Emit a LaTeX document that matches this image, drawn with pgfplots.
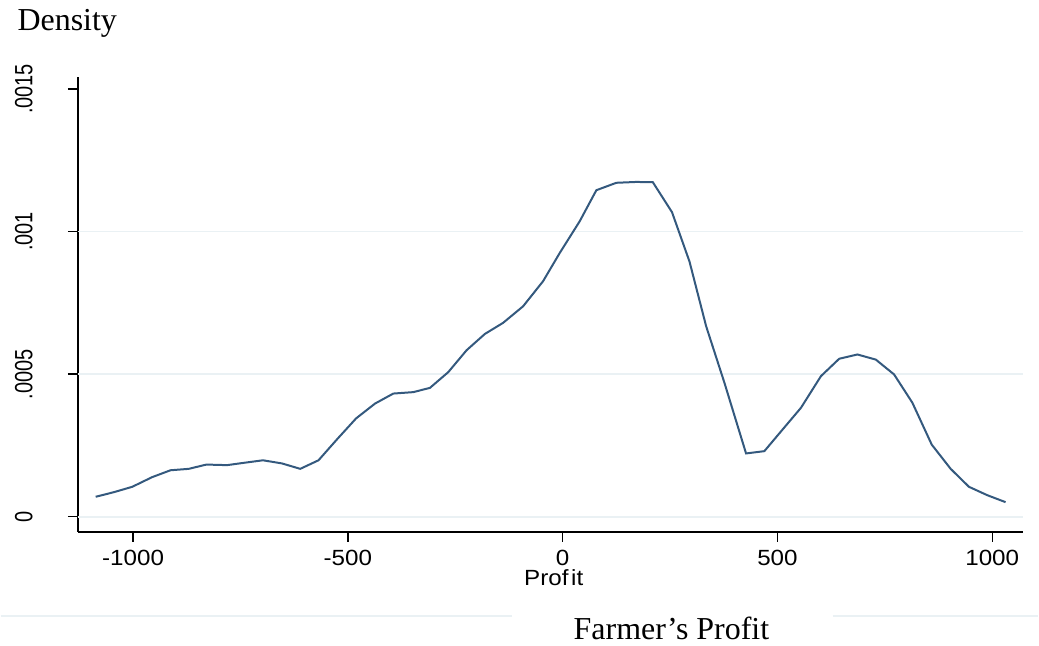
\documentclass[border=0pt]{standalone}
\usepackage{fontspec}
\setmainfont{Liberation Serif}
\newfontfamily\ticksf[FakeStretch=1.1]{Liberation Sans}
\newfontfamily\arialf{Liberation Sans}
\usepackage{graphicx}
\usepackage{pgfplots}
\pgfplotsset{compat=1.18}
\definecolor{curve}{HTML}{34597E}
\definecolor{gridc}{HTML}{EAF1F4}
\begin{document}
\begin{tikzpicture}
\path (0pt,0pt) rectangle (519.5pt,-323pt);
\draw[gridc, line width=0.75pt] (0pt,-308.4pt) -- (255.9pt,-308.4pt);
\draw[gridc, line width=0.75pt] (416.5pt,-308.4pt) -- (519.5pt,-308.4pt);
\node[anchor=base west, inner sep=0pt, font=\fontsize{16}{19}\selectfont] at (8.2pt,-15.35pt) {Density};
\node[anchor=base, inner sep=0pt, font=\fontsize{16}{19}\selectfont] at (335.85pt,-320pt) {Farmer’s Profit};
\begin{axis}[
  at={(38.65pt,-266.35pt)}, anchor=south west,
  scale only axis, width=473pt, height=228pt,
  xmin=-1128.3, xmax=1070.7, ymin=-0.0000532, ymax=0.0015434,
  scaled y ticks=false, scaled x ticks=false,
  axis x line*=bottom, axis y line*=left,
  axis line style={-, line width=0.7pt, black},
  tick align=outside, major tick length=5pt,
  tick style={line width=0.7pt, black},
  xtick={-1000,-500,0,500,1000},
  xticklabels={-1000,-500,0,500,1000},
  ytick={0,0.0005,0.001,0.0015},
  yticklabels={\scalebox{1}[1.25]{0},\scalebox{1}[1.25]{.0005},\scalebox{1}[1.25]{.001},\scalebox{1}[1.25]{.0015}},
  xticklabel style={font=\ticksf\fontsize{11}{13}\selectfont, inner sep=0pt, anchor=north},
  xticklabel shift=4pt,
  yticklabel style={font=\arialf\fontsize{10}{12}\selectfont, rotate=90, anchor=south, inner sep=0pt},
  yticklabel shift=17.5pt,
  extra y ticks={0,0.0005,0.001},
  extra y tick labels={},
  extra y tick style={ymajorgrids=true, major tick length=0pt, grid style={gridc, line width=0.75pt}},
  xlabel={Prof\kern0.12em it},
  xlabel style={font=\ticksf\fontsize{11}{13}\selectfont, at={(axis description cs:0.5,0)}, anchor=base, inner sep=0pt, yshift=-27pt, xshift=1.75pt},
]
\addplot[curve, line width=1pt] coordinates {
(-1087,0.0000701)
(-1044.6,0.0000862)
(-1001.9,0.000105)
(-955.4,0.000139)
(-912.9,0.000163)
(-870.4,0.000168)
(-829.2,0.000183)
(-781.1,0.000181)
(-742.6,0.000189)
(-697.5,0.000198)
(-653.3,0.000187)
(-610.8,0.000168)
(-568.3,0.000198)
(-524.9,0.000272)
(-480.7,0.000345)
(-436.6,0.000397)
(-394.1,0.000432)
(-347.6,0.000437)
(-308.8,0.000452)
(-266.3,0.000507)
(-223.5,0.000584)
(-181,0.000641)
(-138.5,0.000680)
(-92,0.000738)
(-45.5,0.000826)
(-6.7,0.000925)
(39.7,0.001036)
(78.5,0.001145)
(125,0.001171)
(171.5,0.001174)
(210,0.001173)
(254.6,0.001068)
(295.3,0.000895)
(334.1,0.000668)
(376.6,0.000470)
(427,0.000222)
(469.6,0.000230)
(512.1,0.000306)
(554.8,0.000382)
(601.3,0.000493)
(643.8,0.000554)
(686.3,0.000569)
(729.1,0.000551)
(771.6,0.000499)
(814.1,0.000400)
(859.2,0.000253)
(903.3,0.000168)
(945.9,0.000105)
(988.4,0.0000757)
(1031.1,0.0000512)
};
\end{axis}
\end{tikzpicture}
\end{document}
